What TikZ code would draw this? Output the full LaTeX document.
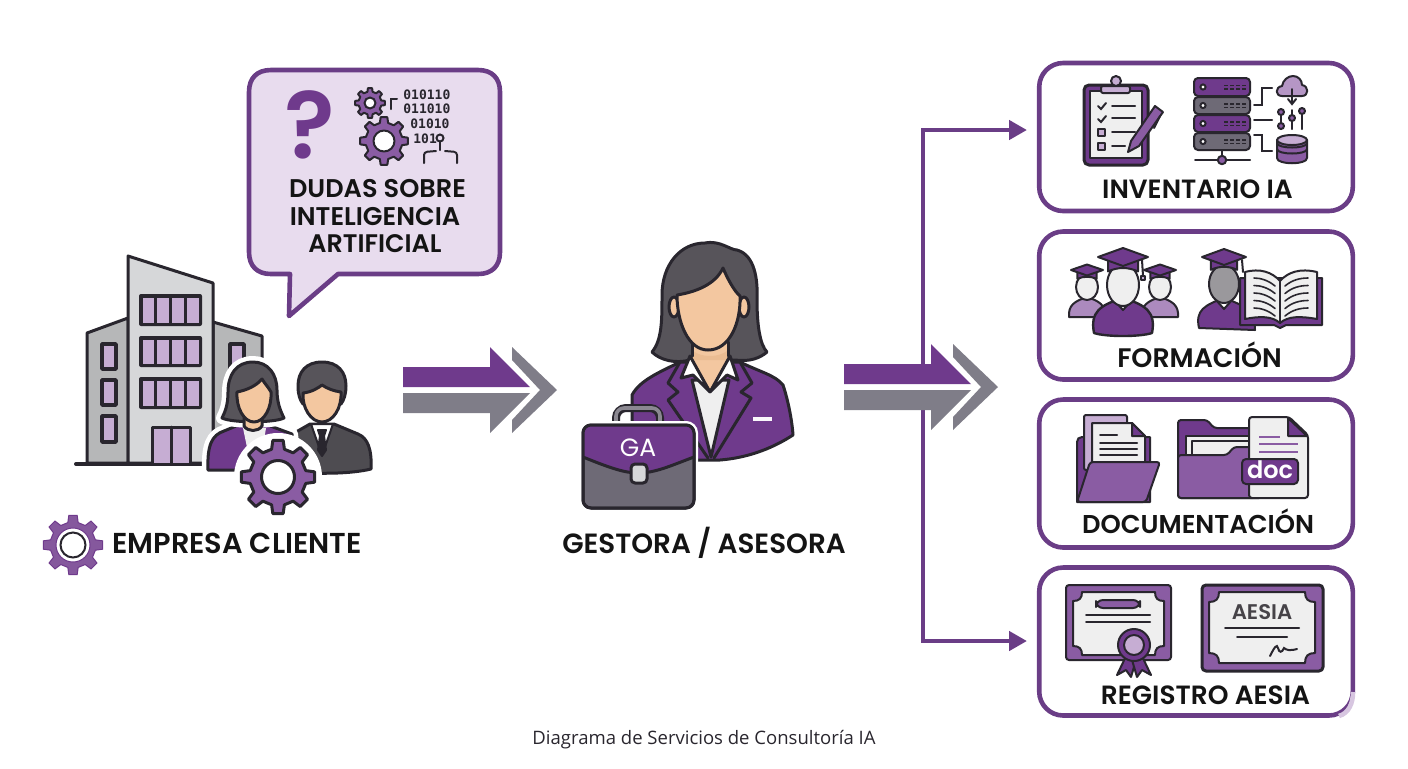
\documentclass[tikz,border=0pt]{standalone}
\usepackage{fontspec}
\setmainfont{Poppins}[BoldFont={Poppins SemiBold}]
\newfontfamily\capfont{Open Sans}
\newfontfamily\monofont{DejaVu Sans Mono}
\definecolor{vio}{HTML}{6F3A8C}
\definecolor{edge}{HTML}{6A3D86}
\definecolor{mid}{HTML}{8A5CA3}
\definecolor{lil}{HTML}{C6ADD3}
\definecolor{pale}{HTML}{E8DCEE}
\definecolor{ink}{HTML}{29262E}
\definecolor{slate}{HTML}{7F7D88}
\definecolor{ash}{HTML}{6E6A76}
\definecolor{hair}{HTML}{57545A}
\definecolor{skin}{HTML}{F3C7A0}
\definecolor{wall}{HTML}{D6D7D9}
\definecolor{sheet}{HTML}{EFEFEF}
\tikzset{
  px/.style={x=0.5pt,y=-0.5pt},
  ol/.style={draw=ink,line width=1.5pt,line join=round,line cap=round},
  thin ol/.style={draw=ink,line width=1pt,line join=round,line cap=round},
  rule/.style={draw=ink,line width=1pt,line cap=round},
  halo/.style={preaction={draw=white,line width=6pt,line join=round}},
  service/.style={draw=edge,line width=2.3pt,rounded corners=12pt,minimum width=156.8pt,minimum height=74pt,fill=white},
  head/.style={anchor=base,text=black!92,font=\bfseries\fontsize{#1}{14}\selectfont,inner sep=0pt},
  digits/.style={anchor=base west,text=ink,font=\monofont\bfseries\fontsize{6.5}{7}\selectfont,inner sep=0pt},
  flow/.style={draw=edge,line width=2.3pt,line join=miter,-{Triangle[width=9.5pt,length=9pt]}},
}
\usetikzlibrary{arrows.meta}
% toothed wheel: options, cx, cy, outer radius, root radius, hole radius
\newcommand{\wheel}[6][]{%
  \begin{scope}[shift={(#2,#3)}]
    \draw[#1] (-13:#5) \foreach \a in {0,45,...,315} { -- (\a-13:#5) -- (\a-8:#4) -- (\a+8:#4) -- (\a+13:#5) } -- cycle;
    \draw[#1,fill=white] (0,0) circle (#6);
  \end{scope}}
% block of four glazed panes
\newcommand{\panes}[4]{%
  \fill[ink,rounded corners=1pt] (#1,#2) rectangle (#3,#4);
  \foreach \k in {0,1,2,3} \fill[lil] ({#1+3.5+\k*(#3-#1-3.5)/4},#2+3.5) rectangle ({#1+(\k+1)*(#3-#1-3.5)/4},#4-3.5);}
% single small window
\newcommand{\pane}[4]{\draw[ol,fill=lil,line width=1.8pt] (#1+1,#2+1) rectangle (#3-1,#4-1);}
% panel with concave corners
\newcommand{\plaque}[5]{%
  \draw[thin ol,fill=sheet] (#1+#5,#2) -- (#3-#5,#2) .. controls (#3-#5,#2+#5*.7) and (#3-#5*.7,#2+#5) .. (#3,#2+#5)
   -- (#3,#4-#5) .. controls (#3-#5*.7,#4-#5) and (#3-#5,#4-#5*.7) .. (#3-#5,#4)
   -- (#1+#5,#4) .. controls (#1+#5,#4-#5*.7) and (#1+#5*.7,#4-#5) .. (#1,#4-#5)
   -- (#1,#2+#5) .. controls (#1+#5*.7,#2+#5) and (#1+#5,#2+#5*.7) .. (#1+#5,#2) -- cycle;}
% graduate cap: centre x, centre y, half width, half height
\newcommand{\mortar}[4]{%
  \draw[thin ol,fill=vio] (#1-#3*.6,#2+#4*.3) -- (#1-#3*.6,#2+#4*1.6) .. controls (#1-#3*.2,#2+#4*1.1) and (#1+#3*.2,#2+#4*1.1) .. (#1+#3*.6,#2+#4*1.6) -- (#1+#3*.6,#2+#4*.3) -- cycle;
  \draw[thin ol,fill=vio] (#1-#3,#2) -- (#1,#2-#4) -- (#1+#3,#2) -- (#1,#2+#4) -- cycle;}
% big double arrow with a chevron, drawn at a horizontal and vertical offset
\newcommand{\twinarrow}[2]{%
  \begin{scope}[shift={(#1,#2)}]
    \fill[vio] (403,367) -- (490,367) -- (490,347) -- (530,387) -- (403,387) -- cycle;
    \fill[slate] (403,393) -- (530,393) -- (490,433) -- (490,413) -- (403,413) -- cycle;
    \fill[slate] (512,347) -- (557,390) -- (512,433) -- (512,420) -- (540,390) -- (512,360) -- cycle;
  \end{scope}}
\begin{document}
\begin{tikzpicture}[px]
\useasboundingbox (0,0) rectangle (1408,768);

% --- speech bubble ---
\draw[draw=edge,line width=2.3pt,fill=pale,line join=round]
  (271,70) -- (478,70) .. controls (492,70) and (500,78) .. (500,92)
  -- (500,252) .. controls (500,266) and (492,274) .. (478,274)
  -- (338,274) -- (289,316) -- (290,274) -- (271,274)
  .. controls (257,274) and (249,266) .. (249,252)
  -- (249,92) .. controls (249,78) and (257,70) .. (271,70) -- cycle;
\node[anchor=base,text=vio,font=\bfseries\fontsize{47}{47}\selectfont,inner sep=0pt] (quest) at (310,158) {?};
\wheel[thin ol,fill=mid]{370}{103}{15}{11.5}{5.5}
\wheel[thin ol,fill=mid]{384}{141}{24}{18.5}{10.5}
\node[digits] (bin1) at (403,99) {010110};
\node[digits] (bin2) at (403,113) {011010};
\node[digits] (bin3) at (410,128) {01010};
\node[digits] (bin4) at (413,143) {101};
\draw[rule] (391,109) -- (391,99) -- (397,99);
\draw[rule] (440,142) -- (440,150);
\draw[rule,fill=pale] (440,138) circle (3.5);
\draw[rule,rounded corners=1.5pt] (424,163) -- (424,152) -- (436,151);
\draw[rule,rounded corners=1.5pt] (457,163) -- (457,152) -- (445,151);
\node[head=12.8] (q1) at (377.5,197) {DUDAS SOBRE};
\node[head=12.8] (q2) at (375,225) {INTELIGENCIA};
\node[head=12.7] (q3) at (375,252.5) {ARTIFICIAL};

% --- office building ---
\draw[ol,fill=wall!85!black] (128,463) -- (128,318) -- (87,333) -- (87,463) -- cycle;
\draw[ol,fill=wall!85!black] (213,463) -- (213,322) -- (262,336) -- (262,463) -- cycle;
\draw[ol,fill=wall] (128,463) -- (128,256) -- (213,283) -- (213,463) -- cycle;
\draw[ol,line width=2pt] (76,464) -- (215,464);
\panes{139}{294}{202}{326}
\panes{139}{336}{202}{367}
\panes{139}{377}{202}{409}
\pane{101}{343}{117}{370}
\pane{101}{379}{117}{406}
\pane{101}{415}{117}{443}
\pane{229}{343}{245}{372}
\draw[ol,fill=lil] (152,463) -- (152,427) -- (190,427) -- (190,463);
\draw[ol] (171,427) -- (171,463);

% --- client couple ---
\draw[ol,fill=hair!90!black,halo] (296,432) -- (310,424) -- (334,424) -- (358,434) .. controls (368,438) and (372,450) .. (371,469) .. controls (350,474) and (320,474) .. (290,472) -- cycle;
\draw[thin ol,fill=white] (311,424) -- (319,447) -- (322,434) -- (325,447) -- (333,424) -- cycle;
\draw[thin ol,fill=ink] (318,430) -- (326,430) -- (324,436) -- (326,450) -- (322,456) -- (318,450) -- (320,436) -- cycle;
\draw[ol,fill=hair] (322,362) .. controls (306,362) and (298,372) .. (298,386) .. controls (298,395) and (300,400) .. (303,404) -- (341,404) .. controls (344,400) and (346,394) .. (346,386) .. controls (346,372) and (338,362) .. (322,362) -- cycle;
\draw[ol,fill=skin] (303,393) .. controls (312,392) and (318,388) .. (322,385) .. controls (328,389) and (334,391) .. (341,392) .. controls (342,408) and (333,422) .. (322,422) .. controls (311,422) and (302,408) .. (303,393) -- cycle;

\path[preaction={draw=white,line width=6pt,line join=round}] (208,470) .. controls (207,445) and (212,435) .. (224,431) -- (241,424) -- (265,424) -- (292,434) -- (296,470) -- cycle;
\draw[ol,fill=vio] (208,470) .. controls (207,445) and (212,435) .. (224,431) -- (241,424) -- (265,424) -- (292,434) -- (296,470) -- cycle;
\fill[sheet] (243,428) -- (266,428) -- (262,452) -- (248,452) -- cycle;
\draw[ol,fill=hair,halo] (253,362) .. controls (236,362) and (228,375) .. (228,392) .. controls (228,405) and (225,412) .. (222,418) .. controls (232,423) and (274,423) .. (284,418) .. controls (280,410) and (277,402) .. (277,390) .. controls (277,374) and (268,362) .. (253,362) -- cycle;
\draw[ol,fill=skin] (244,418) -- (244,426) .. controls (248,432) and (258,432) .. (262,426) -- (262,418) -- cycle;
\draw[ol,fill=skin] (237,392) .. controls (247,390) and (256,386) .. (262,379) .. controls (265,384) and (269,388) .. (271,392) .. controls (272,408) and (264,422) .. (254,422) .. controls (244,422) and (236,408) .. (237,392) -- cycle;
\fill[white] (278,477) circle (44);
\wheel[ol,fill=mid]{278}{477}{37}{28.5}{16.5}

% --- client caption ---
\wheel[draw=vio,line width=.5pt,fill=vio!85!white]{73}{545}{30}{23}{17}
\draw[draw=ink,line width=1pt,fill=white] (73,545) circle (12.5);
\node[head=14.4,anchor=base west] (client) at (112,553) {EMPRESA CLIENTE};

% --- connectors towards the service boxes ---
\node[service] (inv) at (1196,137) {};
\node[service] (form) at (1196,305.5) {};
\node[service] (docs) at (1196,473.5) {};
\node[service] (reg) at (1196,641.5) {};
\coordinate (hubup) at (923,372);
\coordinate (hubdown) at (923,402);
\coordinate (invin) at (1027,130);
\coordinate (regin) at (1027,641);
\draw[flow] (hubup) |- (invin);
\draw[flow] (hubdown) |- (regin);

\twinarrow{0}{0}
\twinarrow{441}{-3}

% --- adviser ---
\draw[ol,fill=hair] (705,243) .. controls (720,240) and (730,250) .. (737,250) .. controls (755,255) and (758,280) .. (757,300) .. controls (757,325) and (760,345) .. (767,352) .. controls (760,358) and (750,362) .. (735,360) -- (690,360) .. controls (675,364) and (660,360) .. (652,352) .. controls (662,340) and (662,320) .. (662,295) .. controls (662,265) and (680,243) .. (705,243) -- cycle;
\draw[ol,fill=skin] (674,307) ellipse (5 and 10);
\draw[ol,fill=skin] (744,307) ellipse (5 and 10);
\draw[ol,fill=vio] (632,395) .. controls (640,380) and (660,372) .. (680,362) -- (740,362) .. controls (760,372) and (775,375) .. (783,385) .. controls (788,400) and (792,420) .. (793,435) .. controls (770,450) and (745,458) .. (720,460) -- (640,460) -- (632,420) -- cycle;
\draw[ol,fill=sheet] (692,380) -- (711,457) -- (729,380) -- cycle;
\fill[skin] (692,342) -- (692,360) -- (710,392) -- (728,360) -- (728,342) -- cycle;
\fill[skin!85!brown] (692,350) .. controls (700,358) and (720,358) .. (728,350) -- (728,360) -- (692,360) -- cycle;
\draw[ol] (692,342) -- (692,356);
\draw[ol] (728,342) -- (728,356);
\draw[ol,fill=white] (690,356) -- (681,378) -- (693,375) -- (710,392) -- cycle;
\draw[ol,fill=white] (730,356) -- (738,380) -- (727,375) -- (710,392) -- cycle;
\draw[ol] (680,362) -- (668,383) -- (678,392) -- (668,400) -- (708,458);
\draw[ol] (740,362) -- (752,383) -- (741,392) -- (751,398) -- (714,458);
\fill[white!90!lil] (753,417) rectangle (772,421);
\draw[ol,fill=skin] (677,295) .. controls (695,292) and (715,285) .. (723,268) .. controls (728,280) and (735,292) .. (740,296) .. controls (741,322) and (730,350) .. (708,350) .. controls (688,350) and (677,322) .. (677,295) -- cycle;

% --- briefcase ---
\draw[draw=ink,line width=4pt,rounded corners=5pt] (616,425) -- (616,408) -- (660,408) -- (660,425);
\draw[draw=ash!80!white,line width=1.8pt,rounded corners=4pt] (616,425) -- (616,408) -- (660,408) -- (660,425);
\draw[ol,fill=ash,rounded corners=4pt,preaction={draw=white,line width=4pt}] (583,425) rectangle (694,508);
\begin{scope}
\clip[rounded corners=4pt] (583,425) rectangle (694,508);
\fill[vio] (583,425) rectangle (694,457) (583,457) .. controls (610,468) and (625,473) .. (638,473) .. controls (655,473) and (670,466) .. (694,457) -- cycle;
\draw[ol] (583,457) .. controls (610,468) and (625,473) .. (638,473) .. controls (655,473) and (670,466) .. (694,457);
\end{scope}
\draw[ol,rounded corners=4pt] (583,425) rectangle (694,508);
\draw[ol,fill=wall,rounded corners=2pt] (631,464) rectangle (647,483);
\node[anchor=base,text=white,font=\fontsize{12.5}{14}\selectfont,inner sep=0pt] (initials) at (638,456) {GA};
\node[head=13.9] (adviser) at (704,553) {GESTORA / ASESORA};

% --- inventory: clipboard ---
\draw[ol,fill=vio,rounded corners=2.5pt] (1084,85) rectangle (1148,165);
\draw[thin ol,fill=sheet] (1090,91) rectangle (1142,158);
\draw[thin ol,fill=lil,rounded corners=1pt] (1101,86) -- (1130,86) -- (1130,93) -- (1101,93) -- cycle;
\draw[thin ol,fill=lil] (1116,81) circle (5);
\draw[rule] (1098,106) -- (1101,109) -- (1106,103);
\draw[rule] (1098,119) -- (1101,122) -- (1106,116);
\draw[thin ol,fill=lil] (1098,129) rectangle (1105,136);
\draw[thin ol,fill=lil] (1098,143) rectangle (1105,150);
\draw[rule] (1112,106) -- (1135,106);
\draw[rule] (1112,118) -- (1135,118);
\draw[rule] (1112,132) -- (1135,132);
\draw[rule] (1112,146) -- (1125,146);
\draw[thin ol,fill=mid] (1128,152) -- (1131,141) -- (1155,106) -- (1163,112) -- (1139,146) -- cycle;
\draw[rule] (1160,116) -- (1154,128);
% --- inventory: server rack ---
\foreach \ya/\yb/\tone in {78/96/vio,97/114/ash,115/132/vio,133/150/ash}{
  \draw[thin ol,fill=\tone,rounded corners=2pt] (1194,\ya) rectangle (1250,\yb);
  \draw[thin ol,fill=white] (1203,{(\ya+\yb)/2}) circle (2.6);
  \foreach \dx in {1226,1232,1238,1244} {
    \fill[ink] (\dx-2,{(\ya+\yb)/2-2.5}) rectangle (\dx+2,{(\ya+\yb)/2-1});
    \fill[ink] (\dx-2,{(\ya+\yb)/2+1}) rectangle (\dx+2,{(\ya+\yb)/2+2.5});
  }}
\draw[rule] (1222,150) -- (1222,156);
\draw[rule] (1195,160) -- (1250,160);
\draw[thin ol,fill=mid] (1222,160) circle (4.2);
\draw[rule] (1254,105) -- (1262,105) -- (1262,88) -- (1272,88);
\draw[rule] (1254,120) -- (1272,120);
\draw[rule] (1254,135) -- (1262,135) -- (1262,151) -- (1272,151);
\draw[thin ol,fill=lil!80!vio] (1282,96) .. controls (1275,96) and (1275,87) .. (1282,86) .. controls (1283,80) and (1288,76) .. (1293,76) .. controls (1298,76) and (1302,80) .. (1302,85) .. controls (1309,86) and (1309,96) .. (1302,96) -- cycle;
\draw[rule] (1292,89) -- (1292,103);
\draw[rule] (1288,99) -- (1292,104) -- (1296,99);
\draw[rule] (1281,110) -- (1281,129);
\draw[rule] (1292,110) -- (1292,129);
\draw[rule] (1302,110) -- (1302,129);
\foreach \kx/\ky in {1281/112,1281/126,1292/118,1302/111} \draw[thin ol,fill=mid] (\kx,\ky) circle (3);
\draw[thin ol,fill=mid] (1277,140) -- (1277,158) .. controls (1277,165) and (1307,165) .. (1307,158) -- (1307,140) -- cycle;
\draw[rule] (1277,149) .. controls (1277,155) and (1307,155) .. (1307,149);
\draw[rule] (1277,143) .. controls (1277,149) and (1307,149) .. (1307,143);
\draw[thin ol,fill=lil] (1292,140) ellipse (15 and 5);
\node[head=13.2] (t1) at (1197.5,198) {INVENTARIO IA};

% --- training: three graduates ---
\foreach \cx in {1087,1160}{
  \draw[thin ol,fill=lil!70!vio] (\cx-18,317) .. controls (\cx-19,305) and (\cx-12,301) .. (\cx,297) .. controls (\cx+12,301) and (\cx+19,305) .. (\cx+18,317) -- cycle;
  \draw[thin ol,fill=sheet] (\cx,287) ellipse (11 and 13);
  \mortar{\cx}{270}{16}{5.5}
}
\draw[thin ol,fill=vio,line width=1.2pt] (1094,333) .. controls (1090,312) and (1100,305) .. (1123,298) .. controls (1146,305) and (1156,312) .. (1152,333) .. controls (1140,337) and (1106,337) .. (1094,333) -- cycle;
\draw[thin ol,fill=white] (1114,300) -- (1123,310) -- (1132,300) -- cycle;
\draw[thin ol,fill=sheet] (1123,285) ellipse (16 and 21);
\mortar{1123}{257}{25}{9}
\draw[rule] (1142,260) -- (1143,276);
\draw[thin ol,fill=lil] (1141,276) -- (1145,276) -- (1145,280) -- (1141,280) -- cycle;
% --- training: reader with open book ---
\draw[thin ol,fill=vio] (1199,328) .. controls (1195,310) and (1205,305) .. (1224,298) .. controls (1243,305) and (1255,310) .. (1255,330) -- cycle;
\draw[thin ol,fill=white] (1216,300) -- (1224,309) -- (1232,300) -- cycle;
\draw[thin ol,fill=hair!60!white] (1224,284) ellipse (15 and 19);
\mortar{1224}{257}{22}{8}
\draw[rule] (1242,260) -- (1243,272);
\draw[thin ol,fill=vio] (1240,278) -- (1322,278) -- (1322,325) -- (1286,325) -- (1280,328) -- (1274,325) -- (1240,325) -- cycle;
\draw[thin ol,fill=sheet] (1245,272) .. controls (1260,268) and (1272,272) .. (1280,281) .. controls (1288,272) and (1300,268) .. (1317,272) -- (1317,319) .. controls (1300,316) and (1288,316) .. (1280,323) .. controls (1272,316) and (1260,316) .. (1245,319) -- cycle;
\draw[rule,line width=.8pt] (1280,281) -- (1280,323);
\foreach \ly in {0,1,2,3,4}{
  \draw[rule,line width=.8pt] (1254,278+\ly*7.5) .. controls (1260,278+\ly*7.5) and (1268,280+\ly*7.5) .. (1275,286+\ly*7.5);
  \draw[rule,line width=.8pt] (1308,278+\ly*7.5) .. controls (1300,278+\ly*7.5) and (1292,280+\ly*7.5) .. (1285,286+\ly*7.5);
}
\node[head=13.4] (t2) at (1199.5,367) {FORMACIÓN};

% --- documents: first folder ---
\draw[thin ol,fill=vio] (1077,502) -- (1077,442) .. controls (1077,439) and (1079,437) .. (1082,437) -- (1150,437) -- (1150,502) -- cycle;
\draw[thin ol,fill=lil,rounded corners=1pt] (1084,470) -- (1084,415) -- (1127,415) -- (1127,470) -- cycle;
\draw[thin ol,fill=sheet] (1092,470) -- (1092,423) -- (1132,423) -- (1145,436) -- (1145,470) -- cycle;
\draw[thin ol,fill=vio] (1132,423) -- (1132,436) -- (1145,436) -- cycle;
\draw[rule] (1100,435) -- (1117,435);
\draw[rule] (1100,443) -- (1137,443);
\draw[rule] (1100,449) -- (1137,449);
\draw[rule] (1100,455) -- (1137,455);
\draw[thin ol,fill=mid,rounded corners=1.5pt] (1090,462) -- (1160,462) -- (1146,502) -- (1077,502) -- cycle;
% --- documents: second folder with file ---
\draw[thin ol,fill=vio,rounded corners=1.5pt] (1178,498) -- (1178,420) -- (1207,420) -- (1214,428) -- (1262,428) -- (1262,498) -- cycle;
\draw[thin ol,fill=sheet] (1186,460) -- (1186,436) -- (1252,436) -- (1252,460) -- cycle;
\draw[thin ol,fill=sheet] (1192,460) -- (1192,441) -- (1252,441) -- (1252,460) -- cycle;
\draw[thin ol,fill=mid,rounded corners=1.5pt] (1178,498) -- (1178,455) -- (1227,455) -- (1234,447) -- (1255,447) -- (1255,498) -- cycle;
\draw[thin ol,fill=sheet,rounded corners=1.5pt] (1249,498) -- (1249,417) -- (1289,417) -- (1308,435) -- (1308,498) -- cycle;
\draw[thin ol,fill=vio] (1288,418) -- (1288,436) -- (1307,436) -- cycle;
\draw[draw=mid,line width=1pt] (1259,437) -- (1280,437);
\draw[draw=mid,line width=1pt] (1259,444) -- (1298,444);
\draw[draw=mid,line width=1pt] (1259,452) -- (1298,452);
\draw[thin ol,fill=vio,rounded corners=2pt] (1242,459) rectangle (1298,484);
\node[anchor=base,text=white,font=\bfseries\fontsize{12}{14}\selectfont,inner sep=0pt] (dtag) at (1270,478) {doc};
\node[head=12.9] (t3) at (1198,533) {DOCUMENTACIÓN};

% --- AESIA registry: first certificate ---
\draw[thin ol,fill=mid,rounded corners=1.5pt] (1066,585) rectangle (1171,660);
\plaque{1073}{592}{1164}{655}{9}
\draw[thin ol,fill=mid,rounded corners=3.5pt] (1096,600) rectangle (1140,608);
\draw[rule] (1086,615) -- (1150,615);
\draw[rule] (1086,622) -- (1150,622);
\draw[thin ol,fill=vio] (1128,652) -- (1117,675) -- (1126,670) -- (1131,677) -- (1136,660) -- cycle;
\draw[thin ol,fill=vio] (1140,652) -- (1151,675) -- (1142,670) -- (1137,677) -- (1132,660) -- cycle;
\draw[thin ol,fill=vio] (1134,645) circle (16);
\draw[thin ol,fill=lil] (1134,645) circle (10);
% --- AESIA registry: second certificate ---
\draw[ol,fill=mid,rounded corners=2pt] (1202,585) rectangle (1323,671);
\plaque{1209}{592}{1315}{663}{10}
\node[anchor=base,text=hair!80!black,font=\bfseries\fontsize{10.6}{12}\selectfont,inner sep=0pt] (stamp) at (1262,619) {AESIA};
\draw[rule] (1225,628) -- (1299,628);
\draw[rule] (1237,637) -- (1287,637);
\draw[rule] (1270,656) .. controls (1274,648) and (1277,643) .. (1278,648) .. controls (1279,653) and (1282,653) .. (1284,648) .. controls (1286,650) and (1290,651) .. (1297,649);
\node[head=13.2] (t4) at (1205.5,704) {REGISTRO AESIA};
% worn corner of the last box
\draw[draw=lil!70!white,line width=2.3pt] (1353,692) .. controls (1353,703) and (1349,713) .. (1339,716);

% --- footer ---
\node[anchor=base,text=ink,font=\capfont\fontsize{9.26}{12}\selectfont,inner sep=0pt] (foot) at (704,744) {Diagrama de Servicios de Consultoría IA};
\end{tikzpicture}
\end{document}
